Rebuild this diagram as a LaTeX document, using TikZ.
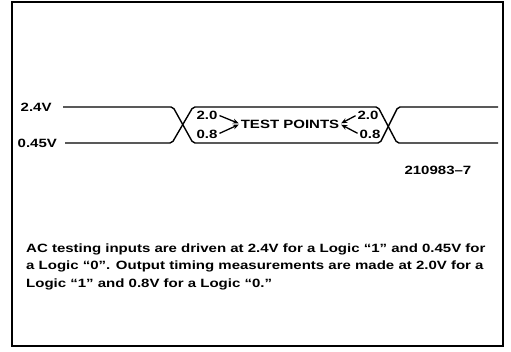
\documentclass[tikz,border=0pt]{standalone}
\usepackage{fontspec}
\setmainfont{Liberation Sans}[FakeStretch=1.25]
\usepackage{tikz}
\usetikzlibrary{arrows.meta}

\begin{document}
\begin{tikzpicture}[x=1pt,y=-1pt,
  font=\fontsize{12}{17.5}\selectfont\bfseries,
  lbl/.style={inner sep=0.5pt},
  wave/.style={line width=1.4pt,rounded corners=2pt},
  ptr/.style={-{Stealth[length=6pt,width=5pt]},line width=1.3pt,shorten <=1.5pt,shorten >=1.5pt}]
\useasboundingbox (0,0) rectangle (511,352);
\draw[line width=1.4pt] (12,2) rectangle (503,346);
% input levels
\node[lbl,anchor=west] (vhi) at (20,107) {2.4V};
\node[lbl,anchor=west] (vlo) at (17,143) {0.45V};
\draw[wave] (63,107) -- (173,107) -- (193,143) -- (380,143) -- (398,107) -- (498,107);
\draw[wave] (65,143) -- (172,143) -- (193,107) -- (378,107) -- (397,143) -- (498,143);
% test points
\node[lbl] (l20) at (207,115) {2.0};
\node[lbl] (l08) at (207,134) {0.8};
\node[lbl] (tp) at (290,124) {TEST POINTS};
\node[lbl] (r20) at (368,115) {2.0};
\node[lbl] (r08) at (370,134) {0.8};
\draw[ptr] (l20.east) -- (tp.west);
\draw[ptr] (l08.east) -- (tp.west);
\draw[ptr] (r20.west) -- (tp.east);
\draw[ptr] (r08.west) -- (tp.east);
\node[lbl,anchor=east] (fig) at (472,170) {210983--7};
% note
\node[anchor=north west,inner sep=0pt,align=left] (note) at (26,243.5)
  {AC testing inputs are driven at 2.4V for a Logic ``1'' and 0.45V for\\
   a Logic ``0''. Output timing measurements are made at 2.0V for a\\
   Logic ``1'' and 0.8V for a Logic ``0.''};
\end{tikzpicture}
\end{document}
